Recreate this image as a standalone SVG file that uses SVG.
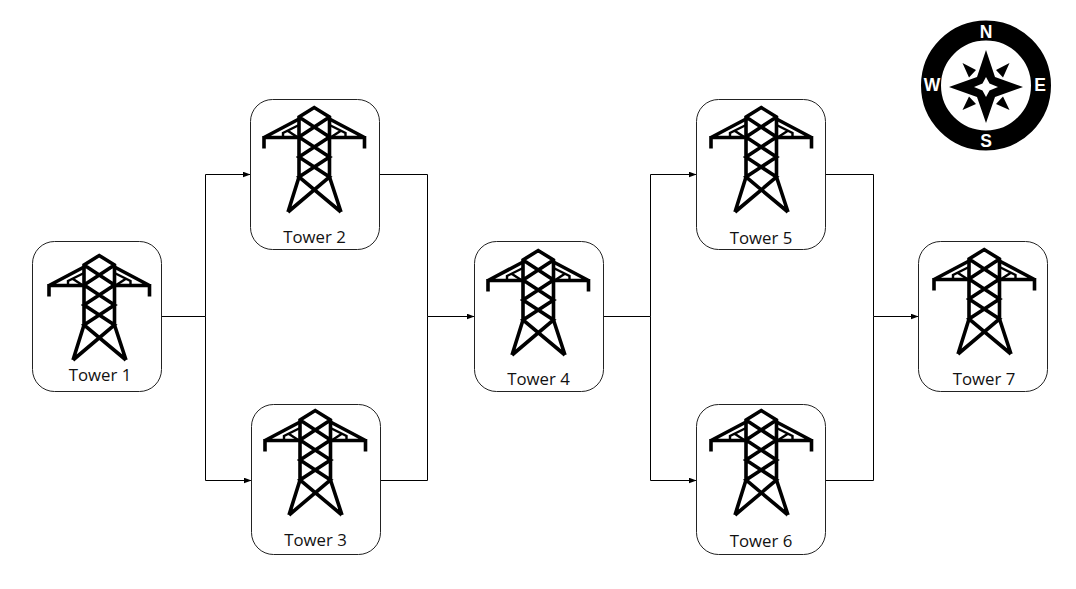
<svg xmlns="http://www.w3.org/2000/svg" width="1076" height="589" viewBox="0 0 1076 589">
<style>
.box{fill:#fff;stroke:#222;stroke-width:1}
.t{fill:none;stroke:#000;stroke-width:3.6;stroke-linejoin:miter}
.t2{fill:none;stroke:#000;stroke-width:2.4}
.lbl{font-family:"Open Sans","Noto Sans",sans-serif;font-size:16.8px;fill:#111;text-anchor:middle}
.c{fill:none;stroke:#000;stroke-width:1}
.cl{font-family:"Liberation Sans",Arial,sans-serif;font-size:17.5px;font-weight:bold;fill:#fff;text-anchor:middle}
</style>
<defs>
<marker id="ah" markerWidth="8" markerHeight="6" refX="7.500" refY="3" orient="auto" markerUnits="userSpaceOnUse"><path d="M0,0L8,3L0,6Z" fill="#000"/></marker>
<g id="tower">
<path class="t" d="M73,360L84,325V265L99.200,255.500L114.500,265V325L126,360M84,265L114.500,285L84,305L114.500,325L73,360M114.500,265L84,285L114.500,305L84,325L126,360"/>
<path class="t" d="M84,267L49,285.500H84M114.500,267L149.500,285.500H114.500M49,284V296.500M149.500,284V296.500"/>
<path class="t2" d="M84,273L68,281V286M73,279L83,285.500M114.500,273L130.500,281V286M125.500,279L115.500,285.500"/>
</g>
</defs>
<g id="connectors">
<path class="c" d="M161,316.500H205.500V174.500H250" marker-end="url(#ah)"/>
<path class="c" d="M205.500,316.500V480.500H251" marker-end="url(#ah)"/>
<path class="c" d="M379,174.500H427.500V316.500H474" marker-end="url(#ah)"/>
<path class="c" d="M380,480.500H427.500V316.500"/>
<path class="c" d="M603,316.500H650.500V174.500H696" marker-end="url(#ah)"/>
<path class="c" d="M650.500,316.500V480.500H696" marker-end="url(#ah)"/>
<path class="c" d="M826,174.500H873.500V316.500H918" marker-end="url(#ah)"/>
<path class="c" d="M826,480.500H873.500V316.500"/>
</g>
<g id="tower1"><rect class="box" x="32.500" y="241.500" width="129" height="150" rx="22"/><use href="#tower"/><text class="lbl" x="100" y="381">Tower 1</text></g>
<g id="tower2"><rect class="box" x="250.500" y="99.500" width="129" height="150" rx="22"/><use href="#tower" x="215" y="-148"/><text class="lbl" x="314.500" y="243">Tower 2</text></g>
<g id="tower3"><rect class="box" x="251.500" y="404.500" width="129" height="150" rx="22"/><use href="#tower" x="216" y="155"/><text class="lbl" x="315.500" y="546">Tower 3</text></g>
<g id="tower4"><rect class="box" x="474.500" y="241.500" width="129" height="150" rx="22"/><use href="#tower" x="439" y="-5"/><text class="lbl" x="538.500" y="385">Tower 4</text></g>
<g id="tower5"><rect class="box" x="696.500" y="99.500" width="129" height="150" rx="22"/><use href="#tower" x="662" y="-148"/><text class="lbl" x="761" y="244">Tower 5</text></g>
<g id="tower6"><rect class="box" x="696.500" y="404.500" width="129" height="150" rx="22"/><use href="#tower" x="662" y="155"/><text class="lbl" x="761" y="547">Tower 6</text></g>
<g id="tower7"><rect class="box" x="918.500" y="241.500" width="129" height="150" rx="22"/><use href="#tower" x="885" y="-6"/><text class="lbl" x="984" y="385">Tower 7</text></g>
<g id="compass">
<circle cx="986" cy="85.500" r="55" fill="#fff" stroke="#000" stroke-width="20"/>
<path d="M986,50L995,77L1023,87L995,97L986,123L977,97L949,87L977,77Z" fill="#000"/>
<path d="M986,77L989.500,83.500L998,87L989.500,90.500L986,97L982.500,90.500L974,87L982.500,83.500Z" fill="#fff"/>
<path d="M962.500,63L976,70L969,77.500ZM1009.500,63L996,70L1003,77.500ZM962.500,110L969,96.500L976,104ZM1009.500,110L1003,96.500L996,104Z" fill="#000"/>
<text class="cl" x="986" y="38">N</text><text class="cl" x="986" y="147">S</text><text class="cl" x="932" y="91">W</text><text class="cl" x="1040" y="91">E</text>
</g>
</svg>
